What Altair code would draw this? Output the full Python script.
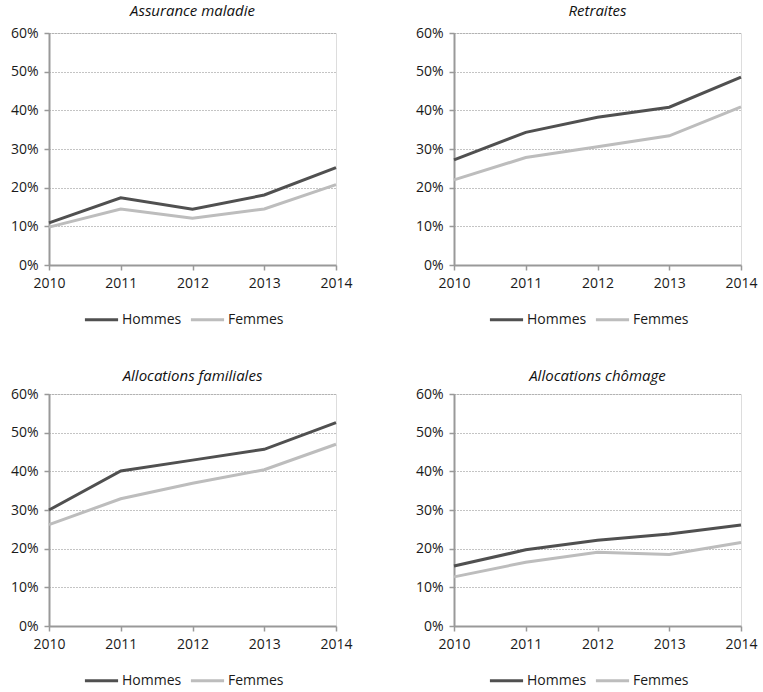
import altair as alt
import pandas as pd

years = [2010, 2011, 2012, 2013, 2014]
series = ["Hommes", "Femmes"]
colors = ["#505050", "#bdbdbd"]
y_ticks = [0, 0.1, 0.2, 0.3, 0.4, 0.5, 0.6]

titles = ["Assurance maladie", "Retraites", "Allocations familiales", "Allocations chômage"]
maladie_h = [10.9, 17.4, 14.4, 18.1, 25.2]
maladie_f = [9.8, 14.5, 12.1, 14.5, 20.8]
retraites_h = [27.2, 34.3, 38.2, 40.8, 48.6]
retraites_f = [22.0, 27.8, 30.6, 33.4, 40.9]
familiales_h = [30.0, 40.1, 42.9, 45.7, 52.6]
familiales_f = [26.2, 32.9, 36.9, 40.4, 47.0]
chomage_h = [15.5, 19.7, 22.2, 23.8, 26.1]
chomage_f = [12.7, 16.5, 19.1, 18.5, 21.6]

FONT = "Open Sans"


def panel(title, h, f, title_offset):
    df = pd.DataFrame({
        "annee": years * 2,
        "valeur": [v / 100 for v in h + f],
        "sexe": ["Hommes"] * len(years) + ["Femmes"] * len(years),
    })
    return alt.Chart(
        df,
        title=alt.TitleParams(title, fontStyle="italic", fontSize=15, fontWeight="normal",
                              font=FONT, color="#111", offset=title_offset, anchor="middle"),
    ).mark_line(strokeWidth=3).encode(
        x=alt.X("annee:Q",
                scale=alt.Scale(domain=[2010, 2014], nice=False, zero=False),
                axis=alt.Axis(values=years, format="d", title=None, grid=False,
                              labelFlush=False, labelFontSize=14, labelFont=FONT,
                              labelColor="#1a1a1a", labelPadding=6,
                              domainColor="#999", domainWidth=2,
                              tickColor="#999", tickSize=5, tickWidth=1.5)),
        y=alt.Y("valeur:Q",
                scale=alt.Scale(domain=[0, 0.6], nice=False),
                axis=alt.Axis(values=y_ticks, format=".0%", title=None,
                              labelFontSize=14, labelFont=FONT, labelColor="#1a1a1a",
                              labelPadding=6,
                              domainColor="#999", domainWidth=2,
                              tickColor="#999", tickSize=5, tickWidth=1.5,
                              gridColor="#888", gridDash=[1, 2], gridWidth=1)),
        color=alt.Color("sexe:N", sort=series,
                        scale=alt.Scale(domain=series, range=colors),
                        legend=alt.Legend(orient="none", legendX=34, legendY=268,
                                          direction="horizontal", title=None,
                                          symbolType="stroke", symbolSize=1100,
                                          symbolStrokeWidth=3, labelFontSize=14,
                                          labelFont=FONT, labelColor="#1a1a1a",
                                          labelOffset=2, columnPadding=2)),
        order=alt.Order("sexe:N"),
    ).properties(width=287, height=232)


p1 = panel(titles[0], maladie_h, maladie_f, 7)
p2 = panel(titles[1], retraites_h, retraites_f, 7)
p3 = panel(titles[2], familiales_h, familiales_f, 3)
p4 = panel(titles[3], chomage_h, chomage_f, 3)

chart = alt.vconcat(
    alt.hconcat(p1, p2, spacing=61).resolve_legend(color="independent"),
    alt.hconcat(p3, p4, spacing=61).resolve_legend(color="independent"),
    spacing=40,
).resolve_legend(color="independent").configure_view(stroke=None).configure(
    background="white", padding={"left": 9, "top": 3, "right": 5, "bottom": 5}
)

chart.save("out.html", embed_options={"renderer": "svg", "actions": False})
